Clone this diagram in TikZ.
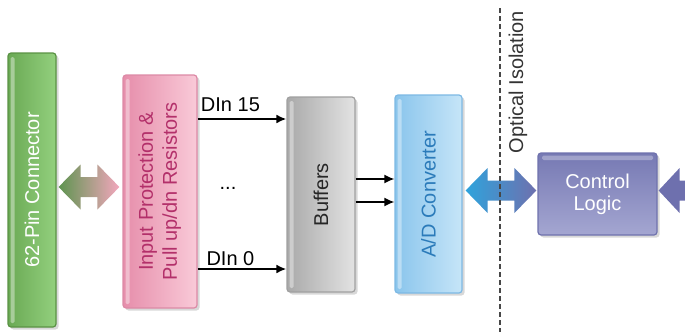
\documentclass[tikz,border=0pt]{standalone}
\usepackage{fontspec}
\setmainfont{Liberation Sans}
\usetikzlibrary{arrows.meta,calc,shadows}

\definecolor{connL}{HTML}{6AA954}
\definecolor{connR}{HTML}{93D07E}
\definecolor{connD}{HTML}{5A9244}
\definecolor{protL}{HTML}{E68EAB}
\definecolor{protR}{HTML}{F9CAD8}
\definecolor{protD}{HTML}{DC8AA6}
\definecolor{protT}{HTML}{B3306A}
\definecolor{bufL}{HTML}{A9A9A9}
\definecolor{bufR}{HTML}{E3E3E3}
\definecolor{bufD}{HTML}{A0A0A0}
\definecolor{adcL}{HTML}{8AC5EC}
\definecolor{adcR}{HTML}{C6E5F8}
\definecolor{adcD}{HTML}{7DB9E4}
\definecolor{adcT}{HTML}{2B7BBA}
\definecolor{ctrlT}{HTML}{7679B3}
\definecolor{ctrlB}{HTML}{A4A6D1}
\definecolor{ctrlD}{HTML}{6F72AD}
\definecolor{gArrL}{HTML}{5E9450}
\definecolor{gArrR}{HTML}{F3A7BD}
\definecolor{bArrL}{HTML}{2FA3DC}
\definecolor{bArrR}{HTML}{6E70AE}
\definecolor{isoT}{HTML}{333333}

% fat double arrow from #2 to #3 (horizontal)
\newcommand{\fatdblarrow}[3]{%
  \path[#1] let \p1=(#2), \p2=(#3) in
    (\x1,\y1) -- ++(22pt,22.5pt) -- ++(0,-12.5pt) -- (\x2-22pt,\y1+10pt)
    -- ++(0,12.5pt) -- (\x2,\y1) -- ++(-22pt,-22.5pt) -- ++(0,12.5pt)
    -- (\x1+22pt,\y1-10pt) -- ++(0,-12.5pt) -- cycle;}

\begin{document}
\begin{tikzpicture}[x=1pt,y=-1pt,>={Latex[length=10pt,width=9pt]},font=\fontsize{20}{24}\selectfont,
    box/.style={rounded corners=3pt,line width=1.2pt,inner sep=0pt,
      drop shadow={shadow xshift=2.5pt,shadow yshift=-2.5pt,fill=black!30,opacity=.5}},
    vgloss/.style={path picture={\fill[white,opacity=.4,rounded corners=1.5pt]
      ([xshift=2.5pt,yshift=-4pt]path picture bounding box.north west) rectangle
      ([xshift=6.5pt,yshift=4pt]path picture bounding box.south west);}},
    hgloss/.style={path picture={\fill[white,opacity=.3,rounded corners=1.5pt]
      ([xshift=4pt,yshift=-2.5pt]path picture bounding box.north west) rectangle
      ([xshift=-4pt,yshift=-7pt]path picture bounding box.north east);}},
    signal/.style={->,line width=2pt},
    isoline/.style={line width=2pt,draw=isoT!90,dash pattern=on 5pt off 3pt}]
  \useasboundingbox (0,0) rectangle (685,332);
  % The boxes
  \node[box,vgloss,left color=connL,right color=connR,draw=connD,text=white,
    minimum width=48pt,minimum height=274pt] (conn) at (32,190)
    {\rotatebox{90}{62-Pin Connector}};
  \node[box,vgloss,left color=protL,right color=protR,draw=protD,text=protT,
    minimum width=74pt,minimum height=233pt] (prot) at (160,191.5)
    {\rotatebox{90}{\begin{tabular}{@{}c@{}}Input Protection \&\\Pull up/dn Resistors\end{tabular}}};
  \node[box,vgloss,left color=bufL,right color=bufR,draw=bufD,text=black!85,
    minimum width=68pt,minimum height=195pt] (buf) at (321,194.5)
    {\rotatebox{90}{Buffers}};
  \node[box,vgloss,left color=adcL,right color=adcR,draw=adcD,text=adcT,
    minimum width=67pt,minimum height=198pt] (adc) at (428.5,194)
    {\rotatebox{90}{A/D Converter}};
  \node[box,hgloss,top color=ctrlT,bottom color=ctrlB,draw=ctrlD,text=white,
    align=center,font=\fontsize{20}{22}\selectfont,
    minimum width=119pt,minimum height=82pt] (ctrl) at (597.5,194)
    {Control\\Logic};
  % The fat arrows
  \coordinate (gA) at ([xshift=2pt,yshift=3pt]conn.east);
  \coordinate (gB) at ([xshift=-3pt]prot.west |- gA);
  \fatdblarrow{left color=gArrL,right color=gArrR}{gA}{gB}
  \coordinate (bA) at ([xshift=3pt,yshift=3.5pt]adc.east);
  \coordinate (bB) at ([xshift=-1pt]ctrl.west |- bA);
  \fatdblarrow{left color=bArrL,right color=bArrR}{bA}{bB}
  \coordinate (rA) at ([xshift=1pt,yshift=3.5pt]ctrl.east);
  \coordinate (rB) at ([xshift=40pt]rA);
  \path[fill=bArrR] let \p1=(rA), \p2=(rB) in
    (\x1,\y1) -- ++(21pt,22.5pt) -- ++(0,-12.5pt) -- (\x2,\y1+10pt)
    -- (\x2,\y1-10pt) -- (\x1+21pt,\y1-10pt) -- ++(0,-12.5pt) -- cycle;
  % The isolation barrier
  \coordinate (isotop) at (500,8);
  \coordinate (isobot) at (500,332);
  \draw[isoline] (isotop) -- (isobot);
  \node[text=isoT] (isolbl) at (518,82) {\rotatebox{90}{Optical Isolation}};
  % The signal lines
  \draw[signal] ([yshift=72.5pt]prot.east) -- ([yshift=72.5pt]prot.east -| buf.west)
    node[pos=.37,above,yshift=3pt] (din15) {DIn 15};
  \draw[signal] ([yshift=-77.5pt]prot.east) -- ([yshift=-77.5pt]prot.east -| buf.west)
    node[pos=.37,above,yshift=-1.5pt] (din0) {DIn 0};
  \node (dots) at (228,188) {...};
  \foreach \dy in {15.5,-7.5}
  {
    \draw[->,line width=1.5pt] ([yshift=\dy pt]buf.east) -- ([yshift=\dy pt]buf.east -| adc.west);
  }
\end{tikzpicture}
\end{document}
